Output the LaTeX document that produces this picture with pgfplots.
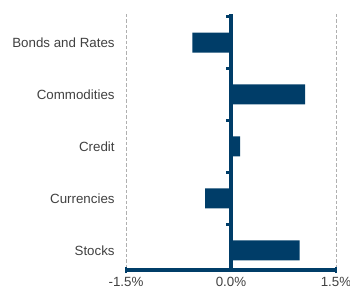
\documentclass[border=0pt]{standalone}
\usepackage{fontspec}
\setmainfont{Liberation Sans}
\usepackage{pgfplots}
\pgfplotsset{compat=1.18}
\definecolor{navy}{RGB}{0,61,104}
\definecolor{txt}{RGB}{64,64,64}
\definecolor{gridc}{RGB}{175,175,175}
\begin{document}
\begin{tikzpicture}
\path[use as bounding box] (-94.5pt,-22.5pt) rectangle (168pt,202.5pt);
\begin{axis}[at={(0,0)}, anchor=south west, scale only axis,
  width=157.5pt, height=192pt,
  xmin=-1.5, xmax=1.5, ymin=-0.55, ymax=4.38, y dir=reverse,
  axis line style={draw=none},
  xtick={-1.5,0,1.5}, xticklabels={-1.5\%,0.0\%,1.5\%},
  ytick={0,1,2,3,4},
  yticklabels={Bonds and Rates,Commodities,Credit,Currencies,Stocks},
  major tick length=0pt,
  xmajorgrids,
  grid style={gridc, line width=0.7pt, dash pattern=on 2.5pt off 1.5pt},
  ticklabel style={font=\fontsize{10}{12}\selectfont, text=txt},
  yticklabel style={xshift=-5pt},
  xticklabel style={yshift=-2pt},
  xbar, bar width=15pt,
  clip=false,
]
\addplot[fill=navy, draw=none] coordinates {(-0.55,0) (1.06,1) (0.13,2) (-0.37,3) (0.98,4)};
\draw[navy, line width=2.8pt] (axis cs:0,-0.55) -- (axis cs:0,4.38);
\draw[navy, line width=2.8pt] (axis cs:-1.5,4.38) -- (axis cs:1.5,4.38);
\draw[navy, line width=1.5pt] ([yshift=-2.3pt]axis cs:-1.5,4.38) -- ([yshift=2.3pt]axis cs:-1.5,4.38);
\draw[navy, line width=1.5pt] ([yshift=-2.3pt]axis cs:1.5,4.38) -- ([yshift=2.3pt]axis cs:1.5,4.38);
\pgfplotsinvokeforeach{-0.5,0.5,1.5,2.5,3.5}{
  \draw[navy, line width=2.2pt] (axis cs:0,#1) -- ([xshift=-3.4pt]axis cs:0,#1);
}
\end{axis}
\end{tikzpicture}
\end{document}
